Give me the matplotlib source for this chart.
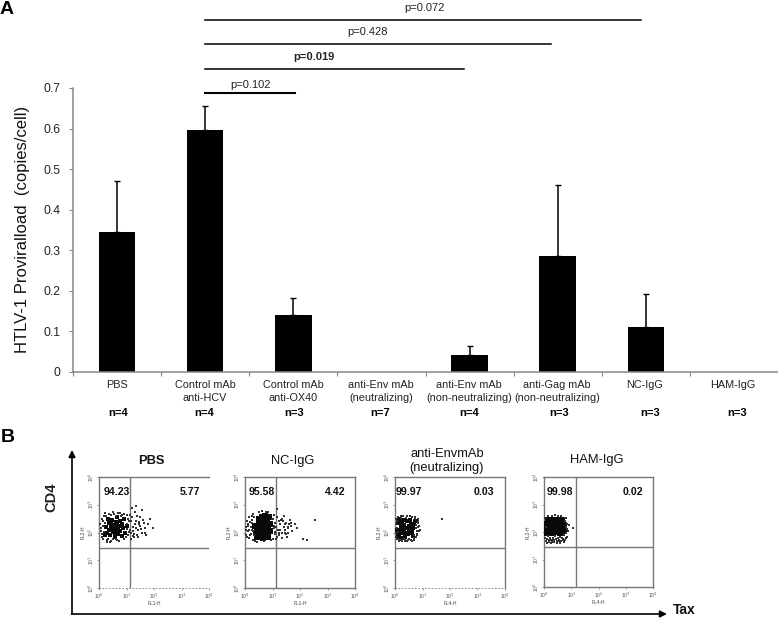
import matplotlib
matplotlib.use("Agg")
import matplotlib.pyplot as plt

plt.rcParams["font.family"] = ["Liberation Sans", "DejaVu Sans"]

# ===== 1) Bar chart data =====
labels = ["PBS", "Control mAb\nanti-HCV", "Control mAb\nanti-OX40",
          "anti-Env mAb\n(neutralizing)", "anti-Env mAb\n(non-neutralizing)",
          "anti-Gag mAb\n(non-neutralizing)", "NC-IgG", "HAM-IgG"]
n_labels = ["n=4", "n=4", "n=3", "n=7", "n=4", "n=3", "n=3", "n=3"]
means = [0.344, 0.597, 0.140, 0.0, 0.043, 0.287, 0.110, 0.0]
err_up = [0.126, 0.058, 0.043, 0.0, 0.020, 0.174, 0.083, 0.0]

p_labels = ["p=0.102", "p=0.019", "p=0.428", "p=0.072"]

# ===== 2) Flow panels: dots, in decades =====
titles = ["PBS", "NC-IgG", "anti-EnvmAb\n(neutralizing)", "HAM-IgG"]
left_pct = ["94.23", "95.58", "99.97", "99.98"]
right_pct = ["5.77", "4.42", "0.03", "0.02"]
x_names = ["FL1-H", "FL1-H", "FL4-H", "FL4-H"]
y_names = ["FL2-H", "FL2-H", "FL2-H", "FL2-H"]

core1_x = [.25, .3, .35, .4, .42, .48, .5, .52, .57, .6, .62, .66, .68, .72, .75, .78, .82, .85, .88, .92,
           .95, .32, .22, .55, .65, .45, .7, .58, .38, 1.0]
core1_y = [2.2, 2.0, 2.35, 1.9, 2.15, 2.45, 2.02, 2.27, 1.85, 2.12, 2.38, 2.55, 1.95, 2.22, 2.42, 2.05, 1.87,
           2.3, 2.15, 2.5, 1.98, 2.5, 1.92, 2.18, 2.28, 2.3, 2.08, 2.0, 2.08, 2.25]
halo1_x = [.05, .08, .1, .12, .15, .18, .2, .28, .35, .45, .55, .65, .78, .9, 1.0, 1.05, 1.1, 1.12, 1.15, 1.2,
           1.25, 1.28, 1.32, 1.35, 1.4, 1.42, 1.48, 1.5, 1.55, 1.58, 1.62, 1.68, 1.72, 1.78, 1.85, 1.95, 1.35, 1.2,
           .07, .13, .17, .24, .33, .42, .52, .62, .72, .83, .97, 1.03, 1.08, 1.18, 1.22, 1.3, 1.38, 1.45, 1.53, 1.6,
           1.66, .1, .16, .3, .5, .7, .92, 1.07, 1.17, 1.27, 1.37, 1.47, .2, .4, .6, .8, 1.02, 1.14, 1.24, 1.34]
halo1_y = [2.3, 2.05, 1.85, 2.5, 1.75, 2.6, 2.35, 1.72, 2.66, 1.7, 2.68, 1.72, 2.7, 1.75, 2.62, 1.9, 2.4, 2.1,
           1.78, 2.55, 2.2, 1.95, 2.75, 2.4, 2.1, 1.82, 2.55, 2.25, 2.0, 2.8, 2.35, 2.15, 1.9, 2.3, 2.5, 2.15, 2.95, 2.9,
           2.15, 2.42, 2.02, 2.58, 1.78, 2.62, 1.76, 2.6, 1.68, 2.62, 1.82, 2.3, 2.02, 2.42, 1.88, 2.32, 2.58, 2.3, 2.12,
           2.45, 1.98, 1.95, 2.25, 1.65, 2.74, 2.72, 2.68, 2.5, 2.0, 1.85, 1.92, 2.38, 2.72, 1.66, 1.78, 2.6, 2.12, 2.62,
           2.05, 2.18]

core2_x = [.4, .45, .5, .52, .58, .6, .65, .68, .72, .75, .78, .82, .85, .88, .9, .45, .55, .62, .7, .8,
           .42, .5, .6, .7, .8, .66, .56, .74, .92, .38]
core2_y = [2.0, 2.25, 1.85, 2.42, 2.1, 2.55, 1.8, 2.3, 2.6, 2.0, 2.45, 1.82, 2.25, 2.55, 2.05, 2.1, 2.3, 1.95,
           2.15, 2.35, 1.85, 2.5, 2.18, 1.85, 2.1, 2.42, 2.02, 2.28, 2.3, 2.22]
halo2_x = [.02, .05, .08, .1, .14, .16, .2, .22, .25, .28, .3, .36, .5, .68, .85, 1.0, 1.02, 1.05, 1.08, 1.1,
           1.12, 1.18, 1.2, 1.25, 1.28, 1.3, 1.35, 1.4, 1.42, 1.45, 1.5, 1.52, 1.58, 1.62, 1.68, 1.72, 1.8, 1.9, 2.1, 2.55, 2.25, 1.15,
           .04, .12, .18, .24, .27, .31, .34, .44, .6, .78, .95, 1.04, 1.09, 1.16, 1.22, 1.27, 1.33, 1.38, 1.44, 1.48, 1.55, 1.6,
           .07, .11, .19, .29, 1.06, 1.14, 1.24, 1.36, 1.46, 1.56, 1.66, .98, .15, .26]
halo2_y = [2.2, 1.9, 2.4, 2.05, 1.8, 2.55, 2.2, 1.95, 2.45, 1.72, 2.65, 1.68, 2.75, 1.68, 2.75, 1.78, 2.5, 2.15,
           1.95, 2.35, 1.75, 2.55, 2.1, 1.9, 2.3, 2.45, 1.8, 2.2, 2.6, 2.0, 2.35, 1.85, 2.15, 2.45, 2.25, 2.05, 2.3, 2.15, 1.75, 2.45, 1.72, 2.85,
           2.1, 2.3, 1.9, 2.1, 2.35, 1.9, 2.55, 1.66, 2.78, 2.74, 1.72, 2.25, 2.02, 1.82, 2.42, 2.1, 2.0, 2.42, 2.3, 1.95, 2.2, 2.3,
           1.82, 2.25, 2.38, 2.05, 2.62, 2.2, 2.0, 2.5, 2.1, 2.0, 2.35, 2.48, 2.1, 2.6]

core3_x = [.08, .12, .16, .2, .24, .28, .32, .36, .4, .44, .48, .52, .56, .6, .64, .68, .1, .18, .26, .34,
           .42, .5, .58, .66, .72, .14, .3, .46, .62, .22]
core3_y = [2.1, 2.35, 1.9, 2.2, 2.42, 2.0, 2.28, 1.85, 2.15, 2.4, 1.95, 2.25, 2.45, 2.05, 1.88, 2.3, 1.88, 2.05, 2.3,
           2.12, 1.98, 2.08, 2.32, 2.15, 2.4, 2.48, 2.45, 2.18, 2.0, 1.8]
halo3_x = [.02, .04, .05, .07, .1, .15, .2, .25, .3, .38, .45, .52, .6, .68, .74, .78, .8, .82, .84, .86, .88, .9, .76, .7, 1.7, .03, .12, .35,
           .06, .11, .17, .23, .33, .41, .49, .55, .63, .71, .77, .81, .85, .79, .83, .09, .27, .43, .57, .69]
halo3_y = [2.3, 2.0, 2.5, 1.75, 2.55, 1.7, 2.58, 1.72, 2.6, 1.74, 2.58, 1.78, 2.55, 1.8, 2.5, 2.15, 1.95, 2.35, 2.2,
           2.05, 2.25, 2.1, 1.85, 1.72, 2.5, 1.85, 1.78, 1.68,
           2.15, 2.02, 1.74, 2.52, 1.76, 2.52, 1.72, 2.6, 1.68, 2.55, 2.28, 2.05, 2.42, 1.92, 2.48, 2.4, 1.68, 1.7, 1.74, 1.92]

core4_x = [.08, .12, .16, .2, .24, .28, .32, .36, .4, .44, .48, .52, .56, .6, .64, .68, .72, .1, .18, .26,
           .34, .42, .5, .58, .66, .14, .3, .46, .62, .74]
core4_y = [2.1, 2.3, 2.0, 2.42, 2.15, 1.98, 2.35, 2.1, 2.45, 2.0, 2.28, 2.1, 2.42, 1.98, 2.3, 2.12, 2.25, 1.95, 2.2, 2.45,
           2.02, 2.22, 2.4, 2.18, 2.42, 2.35, 2.15, 2.12, 2.08, 2.05]
halo4_x = [.02, .04, .06, .1, .14, .18, .22, .26, .3, .34, .38, .42, .46, .5, .54, .58, .62, .66, .7, .74, .78, .8, .82,
           .84, .86, .76, .16, .28, .4, .52, .64, 1.05,
           .08, .12, .2, .24, .32, .36, .44, .48, .56, .6, .68, .72, .79, .83, .81, .77, .87, .9]
halo4_y = [2.5, 1.8, 2.2, 1.75, 1.85, 1.65, 1.78, 1.72, 1.62, 1.8, 1.7, 1.85, 1.66, 1.78, 1.72, 1.82, 1.68, 1.8, 1.75, 1.88,
           2.4, 2.2, 1.95, 2.3, 2.1, 1.7, 2.58, 2.6, 2.62, 2.6, 2.58, 2.15,
           1.68, 1.6, 1.7, 1.6, 1.72, 1.62, 1.74, 1.6, 1.66, 1.6, 1.72, 1.64, 1.78, 1.82, 2.5, 2.52, 2.05, 2.25]

core_x = [core1_x, core2_x, core3_x, core4_x]
core_y = [core1_y, core2_y, core3_y, core4_y]
halo_x = [halo1_x, halo2_x, halo3_x, halo4_x]
halo_y = [halo1_y, halo2_y, halo3_y, halo4_y]

W, H = 778, 618
fig = plt.figure(figsize=(W / 100, H / 100), dpi=100, facecolor="white")


def px_axes(left, top, right, bottom):
    return fig.add_axes([left / W, 1 - bottom / H, (right - left) / W, (bottom - top) / H])


# ===== 3) Bar chart =====
ax = px_axes(73, 88, 778, 372)
pos = [i + 0.5 for i in range(len(means))]
ax.bar(pos, means, width=0.415, color="black")
for x, m, e in zip(pos, means, err_up):
    if e > 0:
        ax.errorbar(x, m, yerr=[[0], [e]], color="black", lw=1.1, capsize=2.2, capthick=1)
ax.set_xlim(0, 8)
ax.set_ylim(0, 0.7)
ax.set_xticks(range(9))
ax.set_xticklabels([])
ax.set_yticks([0, .1, .2, .3, .4, .5, .6, .7])
ax.set_yticklabels(["0", "0.1", "0.2", "0.3", "0.4", "0.5", "0.6", "0.7"], fontsize=8.8, color="#222222")
ax.tick_params(length=3, width=0.8, color="#888888", pad=6)
for s in ["top", "right"]:
    ax.spines[s].set_visible(False)
for s in ["left", "bottom"]:
    ax.spines[s].set_color("#888888")
    ax.spines[s].set_linewidth(1.1)
ax.patch.set_alpha(0)

# ===== 4) Flow panels =====
panel_left = [99, 245, 395, 544]
panel_top = [477, 477, 477, 477]
panel_right = [209, 355, 505, 653]
panel_bottom = [588, 588, 588, 587]
gate_x = [1.13, 1.13, None, 1.16]
gate_y = 1.44
core_size = [9, 16, 8, 16]
dotted_bottom = [True, False, True, False]
show_right = [False, True, True, True]
grey = "#777777"
decades = ["10$^0$", "10$^1$", "10$^2$", "10$^3$", "10$^4$"]

for i in range(4):
    a = px_axes(panel_left[i], panel_top[i], panel_right[i], panel_bottom[i])
    a.scatter(core_x[i], core_y[i], s=core_size[i], marker="s", color="#0a0a0a", linewidths=0, zorder=3)
    a.scatter(halo_x[i], halo_y[i], s=0.6, marker="s", color="#333333", linewidths=0, zorder=3)
    a.axhline(gate_y, color=grey, lw=1)
    if gate_x[i] is not None:
        a.axvline(gate_x[i], color=grey, lw=1)
    a.set_xlim(0, 4)
    a.set_ylim(0, 4)
    a.set_xticks(range(5))
    a.set_yticks(range(5))
    a.set_xticklabels(decades, fontsize=3.5, color="#555555")
    a.set_yticklabels(decades, fontsize=3.5, color="#555555", rotation=90, va="center")
    a.tick_params(length=1.5, width=0.5, color=grey, pad=1)
    a.set_xlabel(x_names[i], fontsize=3.5, color="#444444", labelpad=0.5)
    a.set_ylabel(y_names[i], fontsize=3.5, color="#444444", labelpad=0.5)
    for s in a.spines.values():
        s.set_color(grey)
        s.set_linewidth(1)
    a.spines["right"].set_visible(show_right[i])
    if dotted_bottom[i]:
        a.spines["bottom"].set_linestyle((0, (1, 3)))
        a.spines["bottom"].set_linewidth(0.6)

# ===== 5) Overlay in pixels for text, brackets, arrows =====
ov = fig.add_axes([0, 0, 1, 1])
ov.set_xlim(0, W)
ov.set_ylim(H, 0)
ov.axis("off")
ov.patch.set_alpha(0)

ov.text(0, 9, "A", fontsize=14, fontweight="bold", va="center")
ov.text(1, 438, "B", fontsize=14, fontweight="bold", va="center")

ov.text(23, 229, "HTLV-1 Proviralload  (copies/cell)", fontsize=12, rotation=90,
        ha="center", va="center", color="#111111")

label_x = [117, 205, 293, 381, 469, 557, 645, 733]
n_x = [118, 204, 294, 380, 469, 559, 650, 737]
for x, t in zip(label_x, labels):
    ov.text(x, 385, t.split("\n")[0], fontsize=7.8, ha="center", va="center", color="#222222")
    if "\n" in t:
        ov.text(x, 398, t.split("\n")[1], fontsize=7.8, ha="center", va="center", color="#222222")
for x, t in zip(n_x, n_labels):
    ov.text(x, 413, t, fontsize=8, fontweight="bold", ha="center", va="center")

bracket_end = [295, 464, 551, 641]
bracket_y = [93, 69, 44, 20]
bracket_lw = [1.5, 1.1, 1.1, 1.1]
p_x = [251, 314, 368, 424]
p_y = [85, 57, 32, 8]
p_weight = ["normal", "bold", "normal", "normal"]
for j in range(4):
    ov.plot([205, bracket_end[j]], [bracket_y[j], bracket_y[j]], color="black", lw=bracket_lw[j])
    ov.text(p_x[j], p_y[j], p_labels[j], fontsize=8, fontweight=p_weight[j], ha="center", va="center", color="#222222")

title_x = [151, 293, 447, 597]
title_y = [461, 461, 461, 460]
title_weight = ["bold", "normal", "normal", "normal"]
left_x = [117, 262, 409, 560]
right_x = [190, 335, 484, 633]
for i in range(4):
    ov.text(title_x[i], title_y[i], titles[i], fontsize=9.3, fontweight=title_weight[i],
            ha="center", va="center", linespacing=1.3, color="#111111")
    ov.text(left_x[i], 492, left_pct[i], fontsize=7.6, fontweight="bold", ha="center", va="center", color="#111111")
    ov.text(right_x[i], 492, right_pct[i], fontsize=7.6, fontweight="bold", ha="center", va="center", color="#111111")

ov.text(51, 497, "CD4", fontsize=10.5, fontweight="bold", rotation=90, ha="center", va="center", color="#222222")
ov.text(684, 610, "Tax", fontsize=10, fontweight="bold", ha="center", va="center", color="#111111")

ov.annotate("", xy=(72, 450), xytext=(72, 614),
            arrowprops=dict(arrowstyle="-|>", color="black", lw=1.2, shrinkA=0, shrinkB=0))
ov.annotate("", xy=(667, 614), xytext=(71.5, 614),
            arrowprops=dict(arrowstyle="-|>", color="black", lw=1.2, shrinkA=0, shrinkB=0))

fig.savefig("out.png", dpi=100)
